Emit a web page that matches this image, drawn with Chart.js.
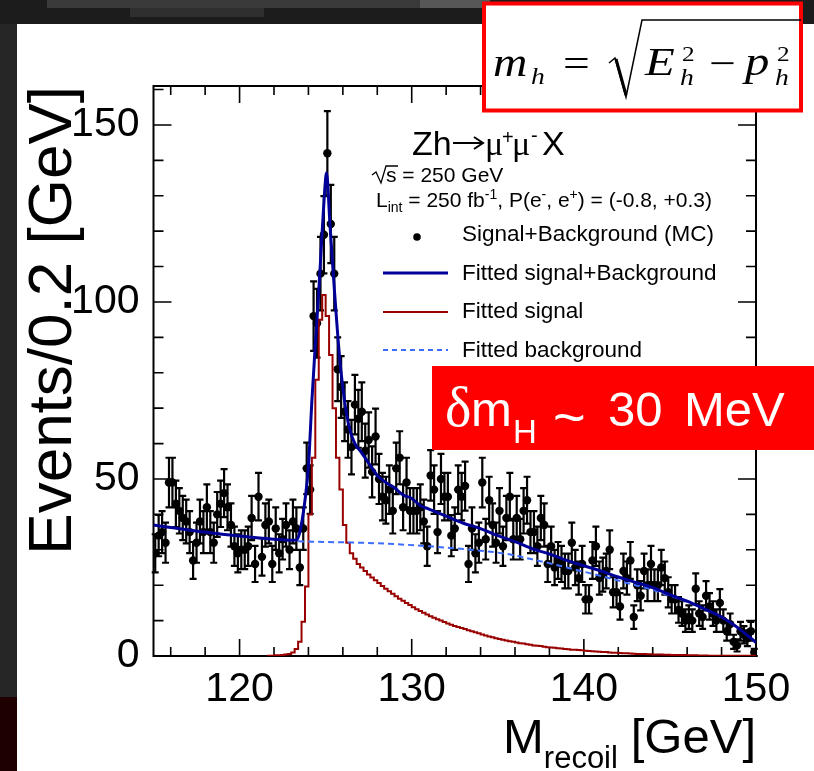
<!DOCTYPE html>
<html>
<head>
<meta charset="utf-8">
<title>Zh recoil mass</title>
<script src="https://cdn.jsdelivr.net/npm/chart.js@4.4.0/dist/chart.umd.min.js"></script>
<style>
  html, body { margin: 0; padding: 0; background: #1c1c1c; }
  canvas { display: block; }
</style>
</head>
<body>
<canvas id="recoilChart" width="814" height="771"></canvas>
<script>
// Histogram binning (Events / 0.2 GeV)
const binLow = 115;
const binWidth = 0.2;

// Signal+Background (MC) - one value per 0.2 GeV bin, 115 -> 150 GeV
const counts = [
  29, 34, 35, 32, 49, 49, 43, 41, 39, 38,   // 115
  35, 27, 32, 38, 35, 42, 35, 32, 40, 43,   // 117
  46, 42, 37, 31, 29, 30, 30, 31, 39, 26,   // 119
  45, 28, 37, 38, 26, 36, 29, 33, 37, 30,   // 121
  38, 36, 25, 36, 53, 47, 96, 94, 108, 119, // 123
  142, 122, 108, 81, 76, 69, 64, 59, 71, 67, // 125
  69, 58, 61, 52, 62, 50, 45, 44, 47, 41,   // 127
  53, 56, 42, 49, 41, 41, 41, 42, 38, 31,   // 129
  51, 47, 35, 50, 45, 45, 34, 36, 47, 45,   // 131
  48, 26, 36, 29, 32, 49, 33, 44, 37, 32,   // 133
  41, 31, 39, 45, 33, 39, 33, 41, 44, 35,   // 135
  35, 31, 39, 37, 26, 31, 25, 27, 26, 24,   // 137
  24, 32, 25, 22, 26, 16, 16, 27, 31, 22,   // 139
  23, 24, 30, 18, 18, 14, 24, 22, 27, 11,   // 141
  20, 17, 24, 20, 26, 20, 20, 25, 22, 18,   // 143
  16, 16, 13, 12, 10, 11, 10, 19, 12, 11,   // 145
  17, 14, 12, 10, 15, 10, 7, 9, 4, 3,       // 147
  7, 6, 5, 7, 1                             // 149
];

// Fitted signal histogram, bins starting at 121.6 GeV
const signalStart = 121.6;
const signalFit = [
  0.1, 0.1, 0.2, 0.2, 0.3, 0.4, 0.6, 1.0, 2.0, 4.0,
  9.7, 19.6, 40, 56, 78, 95, 102, 96, 85, 70,
  56, 47, 37, 32, 29, 27.5, 26, 25, 24, 23,
  22.2, 21.4, 20.6, 19.8, 19, 18.3, 17.6, 16.9, 16.2, 15.6,
  15, 14.4, 13.8, 13.2, 12.7, 12.2, 11.7, 11.2, 10.8, 10.4,
  10, 9.6, 9.2, 8.8, 8.5, 8.2, 7.9, 7.6, 7.3, 7,
  6.7, 6.4, 6.1, 5.8, 5.5, 5.3, 5.0, 4.8, 4.6, 4.4,
  4.2, 4.0, 3.8, 3.6, 3.5, 3.3, 3.2, 3.0, 2.9, 2.8,
  2.6, 2.5, 2.4, 2.3, 2.2, 2.1, 2.0, 1.9, 1.8, 1.75,
  1.7, 1.6, 1.5, 1.4, 1.35, 1.3, 1.2, 1.15, 1.1, 1.0,
  0.95, 0.9, 0.85, 0.8, 0.75, 0.7, 0.65, 0.6, 0.6, 0.55,
  0.5, 0.5, 0.45, 0.4, 0.4, 0.35, 0.35, 0.3, 0.3, 0.3,
  0.25, 0.25, 0.2, 0.2, 0.2, 0.15, 0.15, 0.15, 0.1, 0.1,
  0.1, 0.1, 0.1, 0.1, 0.05, 0.05, 0.05, 0.05, 0.05, 0.05,
  0.05, 0.05
];

// Fitted signal+background curve
const fitX = [115, 116, 117, 118, 119, 120, 121, 122, 123, 123.3, 123.5, 123.8,
  124.0, 124.2, 124.4, 124.6, 124.8, 125.0, 125.05, 125.25, 125.5, 125.8, 126.1, 126.4, 126.7,
  127.0, 127.5, 128, 128.5, 129, 129.5, 130, 130.5, 131, 131.5, 132,
  133, 134, 135, 136, 137, 138, 139, 140, 141, 142, 143, 144, 145, 146, 147, 148, 149, 150];
const fitTotal = [37, 36.3, 35.6, 35, 34.4, 33.9, 33.4, 33, 32.7, 32.8, 35, 44,
  53.5, 72, 88, 103, 120, 135, 136.5, 122, 104, 85, 72, 64, 60,
  58, 54.5, 51, 49, 47.5, 45.5, 44.5, 42.5, 41.5, 40.5, 39.5,
  37.5, 36, 34, 32.3, 30.3, 28.8, 27, 25.5, 24, 22.3, 20.8, 19.3, 17.3, 15.5, 13.3, 11, 7.8, 3.8];

// Fitted background
const bkgX = [123.4, 125, 127, 129, 131, 133, 135, 136, 137, 138, 139, 140, 141, 142, 143, 144, 145, 146, 147, 148, 149, 150];
const bkgFit = [32.4, 32.2, 32, 31.6, 31, 30.2, 29.2, 28.4, 27.3, 26.2, 25, 23.8, 22.6, 21.3, 20, 18.7, 17, 15.3, 13.2, 10.9, 7.7, 3.8];

// Axis ticks
const xTickLabels = [120, 130, 140, 150];
const xMinorStep = 2;
const yTickLabels = [0, 50, 100, 150];
const yMinorStep = 10;

const SANS = "'Liberation Sans', Arial, Helvetica, sans-serif";
const SERIF = "'Liberation Serif', 'Times New Roman', serif";

const pointData = counts.map((n, i) => ({ x: binLow + binWidth * (i + 0.5), y: n }));
const signalData = signalFit.map((v, i) => ({ x: signalStart + binWidth * i, y: v }));
signalData.push({ x: 150, y: signalFit[signalFit.length - 1] });
const totalData = fitX.map((x, i) => ({ x: x, y: fitTotal[i] }));
const bkgData = bkgX.map((x, i) => ({ x: x, y: bkgFit[i] }));

function drawRun(ctx, x, y, parts) {
  let cx = x;
  parts.forEach(([t, f, dy]) => {
    ctx.font = f;
    ctx.fillText(t, cx, y + (dy || 0));
    cx += ctx.measureText(t).width;
  });
}

function glyph(ctx, t, x, y, font, sx) {
  ctx.save();
  ctx.translate(x, y);
  ctx.scale(sx, 1);
  ctx.font = font;
  ctx.fillText(t, 0, 0);
  ctx.restore();
}

const slidePlugin = {
  id: 'slide',
  beforeDraw(chart) {
    const ctx = chart.ctx;
    ctx.save();
    ctx.fillStyle = '#1c1c1c';
    ctx.fillRect(0, 0, 814, 771);
    ctx.fillStyle = '#3a3a3a'; ctx.fillRect(47, 0, 373, 8);
    ctx.fillStyle = '#575757'; ctx.fillRect(420, 0, 70, 8);
    ctx.fillStyle = '#2f2f2f'; ctx.fillRect(130, 8, 134, 9);
    ctx.fillStyle = '#262626'; ctx.fillRect(0, 24, 17, 673);
    ctx.fillStyle = '#1e0000'; ctx.fillRect(0, 697, 17, 74);
    ctx.fillStyle = '#ffffff';
    ctx.fillRect(17, 24, 797, 747);
    ctx.restore();
  },
  beforeDatasetsDraw(chart) {
    const { ctx, chartArea: a, scales: { x, y } } = chart;
    ctx.save();
    ctx.strokeStyle = '#000';
    ctx.lineWidth = 2;
    ctx.strokeRect(a.left, a.top, a.right - a.left, a.bottom - a.top);
    ctx.lineWidth = 1.6;
    ctx.beginPath();
    for (let v = x.min + 1; v < x.max; v += xMinorStep) {
      const px = x.getPixelForValue(v);
      const len = xTickLabels.includes(v) ? 17 : 9;
      ctx.moveTo(px, a.bottom); ctx.lineTo(px, a.bottom - len);
      ctx.moveTo(px, a.top); ctx.lineTo(px, a.top + len);
    }
    for (let v = yMinorStep; v < y.max; v += yMinorStep) {
      const py = y.getPixelForValue(v);
      const len = yTickLabels.includes(v) ? 18 : 10;
      ctx.moveTo(a.left, py); ctx.lineTo(a.left + len, py);
      ctx.moveTo(a.right, py); ctx.lineTo(a.right - len, py);
    }
    ctx.stroke();
    ctx.restore();
  },
  afterDatasetDraw(chart, args) {
    if (args.index !== 3) return;
    const { ctx, scales: { y } } = chart;
    ctx.save();
    ctx.strokeStyle = '#000';
    ctx.lineWidth = 2.2;
    ctx.beginPath();
    args.meta.data.forEach((pt, i) => {
      const n = counts[i];
      const err = Math.sqrt(n);
      const top = y.getPixelForValue(n + err);
      const bot = y.getPixelForValue(Math.max(n - err, 0));
      ctx.moveTo(pt.x, top); ctx.lineTo(pt.x, bot);
      ctx.moveTo(pt.x - 3.5, top); ctx.lineTo(pt.x + 3.5, top);
      ctx.moveTo(pt.x - 3.5, bot); ctx.lineTo(pt.x + 3.5, bot);
    });
    ctx.stroke();
    ctx.restore();
  },
  afterDraw(chart) {
    const ctx = chart.ctx;
    ctx.save();
    ctx.fillStyle = '#000';
    ctx.textBaseline = 'alphabetic';
    ctx.textAlign = 'left';

    // x axis title
    drawRun(ctx, 503, 753, [['M', '49px ' + SANS], ['recoil', '31px ' + SANS, 15]]);
    ctx.textAlign = 'right';
    ctx.font = '49px ' + SANS;
    ctx.fillText('[GeV]', 756, 753);
    ctx.textAlign = 'left';

    // process label
    ctx.font = '34px ' + SANS;
    ctx.fillText('Zh', 412, 155);
    ctx.lineWidth = 2;
    ctx.strokeStyle = '#000';
    ctx.beginPath();
    ctx.moveTo(453, 143); ctx.lineTo(482, 143);
    ctx.moveTo(474, 137); ctx.lineTo(483, 143); ctx.lineTo(474, 149);
    ctx.stroke();
    ctx.font = '34px ' + SERIF;
    ctx.fillText('\u03bc', 485, 155);
    ctx.fillText('\u03bc', 512, 155);
    ctx.font = '20px ' + SANS;
    ctx.fillText('+', 502, 144);
    ctx.fillText('-', 531, 142);
    ctx.font = '34px ' + SANS;
    ctx.fillText('X', 542, 155);

    // sqrt(s) line
    ctx.lineWidth = 1.3;
    ctx.beginPath();
    ctx.moveTo(372, 175); ctx.lineTo(376, 172); ctx.lineTo(381, 183); ctx.lineTo(386, 166); ctx.lineTo(398, 166);
    ctx.stroke();
    ctx.font = '21px ' + SANS;
    ctx.fillText('s = 250 GeV', 386, 182);
    const F21 = '21px ' + SANS, F14 = '14px ' + SANS;
    drawRun(ctx, 376, 207, [['L', F21], ['int', F14, 5], [' = 250 fb', F21], ['-1', F14, -8],
      [', P(e', F21], ['-', F14, -8], [', e', F21], ['+', F14, -8], [') = (-0.8, +0.3)', F21]]);

    // legend
    ctx.font = '22.5px ' + SANS;
    ctx.fillText('Signal+Background (MC)', 462, 241);
    ctx.fillText('Fitted signal+Background', 462, 280);
    ctx.fillText('Fitted signal', 462, 318);
    ctx.fillText('Fitted background', 462, 357);
    ctx.beginPath(); ctx.arc(417, 237, 3.8, 0, Math.PI * 2); ctx.fill();
    ctx.lineWidth = 3; ctx.strokeStyle = '#000099';
    ctx.beginPath(); ctx.moveTo(383, 273); ctx.lineTo(448, 273); ctx.stroke();
    ctx.lineWidth = 2; ctx.strokeStyle = '#990000';
    ctx.beginPath(); ctx.moveTo(383, 312); ctx.lineTo(448, 312); ctx.stroke();
    ctx.strokeStyle = '#3d6dff'; ctx.setLineDash([5, 4]);
    ctx.beginPath(); ctx.moveTo(383, 350); ctx.lineTo(448, 350); ctx.stroke();
    ctx.setLineDash([]);

    // mass resolution box
    ctx.fillStyle = '#ff0000';
    ctx.fillRect(432, 366, 382, 84);
    ctx.fillStyle = '#ffffff';
    ctx.font = '56px ' + SERIF; ctx.fillText('\u03b4', 445, 426);
    ctx.font = '49px ' + SANS; ctx.fillText('m', 471, 426);
    ctx.font = '33px ' + SANS; ctx.fillText('H', 513, 443);
    ctx.font = '56px ' + SANS;
    ctx.fillText('~', 553, 436);
    ctx.font = '49px ' + SANS;
    ctx.fillText('30', 608, 426);
    ctx.fillText('MeV', 684, 426);

    // formula box
    ctx.fillStyle = '#ffffff';
    ctx.fillRect(484, 3, 318, 108);
    ctx.strokeStyle = '#ff0000'; ctx.lineWidth = 4;
    ctx.strokeRect(484, 3.5, 317, 107);
    ctx.fillStyle = '#000';
    const IT38 = 'italic 39px ' + SERIF, IT24 = 'italic 24px ' + SERIF;
    const UP38 = '38px ' + SERIF, UP24 = '22px ' + SERIF;
    glyph(ctx, 'm', 493, 76, IT38, 1.22);
    glyph(ctx, 'h', 531, 84, IT24, 1.15);
    glyph(ctx, '=', 563, 76, UP38, 1.25);
    glyph(ctx, 'E', 645, 75, IT38, 1.25);
    glyph(ctx, '2', 682, 61, UP24, 1.15);
    glyph(ctx, 'h', 680, 85, IT24, 1.15);
    glyph(ctx, '\u2212', 709, 76, UP38, 1.25);
    glyph(ctx, 'p', 745, 75, IT38, 1.25);
    glyph(ctx, '2', 777, 61, UP24, 1.15);
    glyph(ctx, 'h', 775, 85, IT24, 1.15);
    ctx.strokeStyle = '#000';
    ctx.lineWidth = 1.5;
    ctx.beginPath();
    ctx.moveTo(609, 63); ctx.lineTo(615, 58); ctx.lineTo(626, 97); ctx.lineTo(642, 20); ctx.lineTo(801, 20);
    ctx.stroke();
    ctx.lineWidth = 3;
    ctx.beginPath(); ctx.moveTo(616, 59); ctx.lineTo(626, 95); ctx.stroke();
    ctx.restore();
  }
};

new Chart(document.getElementById('recoilChart'), {
  type: 'line',
  data: {
    datasets: [
      {
        label: 'Fitted signal+Background',
        data: totalData,
        borderColor: '#000099',
        borderWidth: 3,
        pointRadius: 0,
        cubicInterpolationMode: 'monotone',
        order: 0
      },
      {
        label: 'Fitted background',
        data: bkgData,
        borderColor: '#3d6dff',
        borderWidth: 2,
        borderDash: [6, 4],
        pointRadius: 0,
        cubicInterpolationMode: 'monotone',
        order: 1
      },
      {
        label: 'Fitted signal',
        data: signalData,
        borderColor: '#990000',
        borderWidth: 2,
        pointRadius: 0,
        stepped: 'before',
        order: 2
      },
      {
        label: 'Signal+Background (MC)',
        data: pointData,
        showLine: false,
        pointRadius: 4.2,
        pointBackgroundColor: '#000',
        pointBorderWidth: 0,
        order: 3
      }
    ]
  },
  options: {
    responsive: false,
    animation: false,
    events: [],
    layout: { padding: { top: 86, right: 58, bottom: 0, left: 0 } },
    plugins: { legend: { display: false }, tooltip: { enabled: false } },
    scales: {
      x: {
        type: 'linear',
        min: 115,
        max: 150,
        grid: { display: false, drawTicks: false },
        border: { display: false },
        afterBuildTicks: s => { s.ticks = xTickLabels.map(v => ({ value: v })); },
        ticks: {
          autoSkip: false,
          maxRotation: 0,
          padding: 9,
          color: '#000',
          font: { family: SANS, size: 41 },
          callback: v => String(v)
        },
        afterFit: s => { s.height = 115; }
      },
      y: {
        min: 0,
        max: 161,
        grid: { display: false, drawTicks: false },
        border: { display: false },
        afterBuildTicks: s => { s.ticks = yTickLabels.map(v => ({ value: v })); },
        ticks: {
          autoSkip: false,
          padding: 14,
          color: '#000',
          font: { family: SANS, size: 41 },
          callback: v => String(v)
        },
        title: {
          display: true,
          text: 'Events/0.2 [GeV]',
          align: 'end',
          color: '#000',
          font: { family: SANS, size: 62 },
          padding: { top: 17, bottom: 0 }
        },
        afterFit: s => { s.width = 153.5; }
      }
    }
  },
  plugins: [slidePlugin]
});
</script>
</body>
</html>
